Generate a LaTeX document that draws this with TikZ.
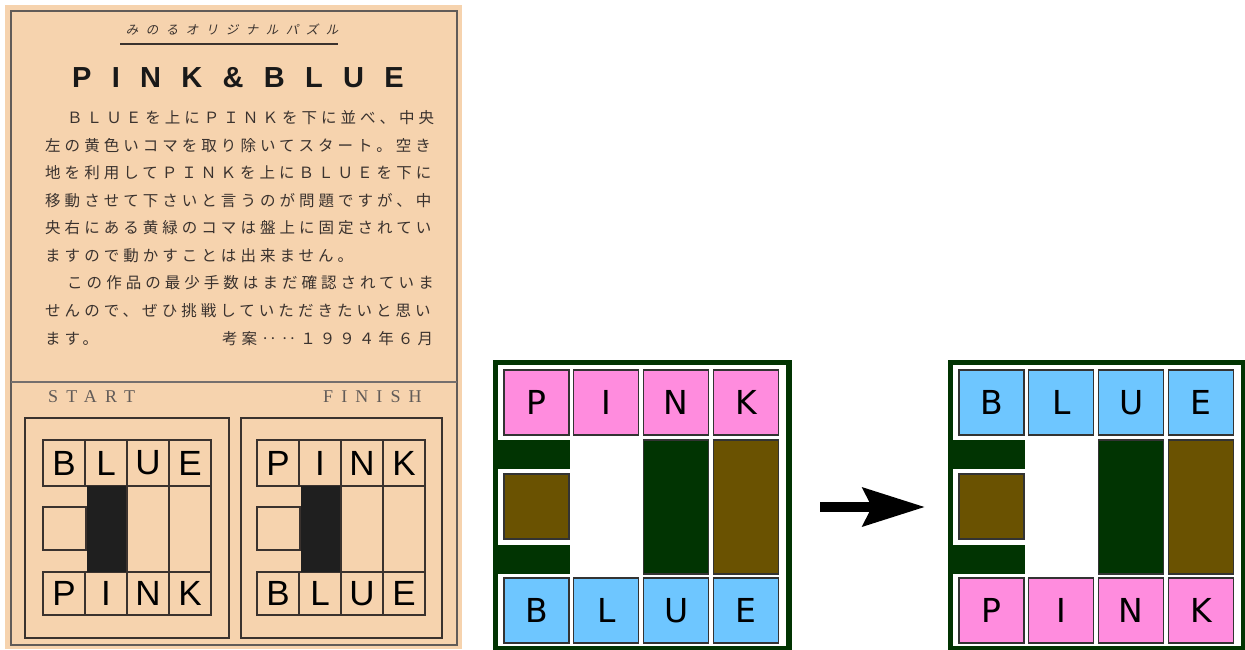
\documentclass[tikz,border=0pt]{standalone}
\usepackage{fontspec}
\usetikzlibrary{arrows.meta}
\newfontfamily\jpfont[LetterSpace=26]{Noto Sans CJK JP}
\newfontfamily\jpslant[LetterSpace=60,FakeSlant=0.2]{Noto Sans CJK JP}
\newfontfamily\titlefont[LetterSpace=70]{Liberation Sans}
\newfontfamily\labelfont[LetterSpace=45]{Liberation Serif}
\newfontfamily\cardfont{Liberation Sans}
\newfontfamily\tilefont{DejaVu Sans}
\definecolor{cardbg}{RGB}{246,211,174}
\definecolor{cardink}{RGB}{58,50,46}
\definecolor{pinktile}{RGB}{255,140,222}
\definecolor{bluetile}{RGB}{110,198,255}
\definecolor{boardgreen}{RGB}{1,52,2}
\definecolor{brownpiece}{RGB}{106,82,1}
\tikzset{
  jpline/.style={anchor=west, inner sep=0pt, text=cardink, font=\jpfont\fontsize{15.5}{15.5}\selectfont},
  cardcell/.style={draw=cardink, line width=1.3pt, minimum width=42pt, inner sep=0pt, font=\cardfont\fontsize{35}{35}\selectfont},
  tile/.style={draw=black!80, line width=1.2pt, minimum size=65pt, inner sep=0pt, font=\tilefont\fontsize{33}{33}\selectfont}
}
\begin{document}
\begin{tikzpicture}[x=1pt, y=-1pt]
  \useasboundingbox (0,0) rectangle (1245,649);
  % Card (scan of the original instructions)
  \fill[cardbg] (5,5) rectangle (462,649);
  \draw[cardink!80, line width=1.5pt] (11,11) rectangle (457,645);
  \draw[cardink!70, line width=2.5pt] (11,382) -- (457,382);
  \node[inner sep=0pt, text=cardink, font=\jpslant\fontsize{12.5}{12.5}\selectfont] (sub) at (232,30) {みのるオリジナルパズル};
  \draw[cardink, line width=1.5pt] (120,44) -- (338,44);
  \node[anchor=west, inner sep=0pt, text=black!90, font=\titlefont\bfseries\fontsize{29}{29}\selectfont] (title) at (72,78) {PINK\&BLUE};
  \node[jpline] (line1) at (67,118) {ＢＬＵＥを上にＰＩＮＫを下に並べ、中央};
  \node[jpline] (line2) at (45,145.5) {左の黄色いコマを取り除いてスタート。空き};
  \node[jpline] (line3) at (45,173) {地を利用してＰＩＮＫを上にＢＬＵＥを下に};
  \node[jpline] (line4) at (45,200.5) {移動させて下さいと言うのが問題ですが、中};
  \node[jpline] (line5) at (45,228) {央右にある黄緑のコマは盤上に固定されてい};
  \node[jpline] (line6) at (45,255.5) {ますので動かすことは出来ません。};
  \node[jpline] (line7) at (67,283) {この作品の最少手数はまだ確認されていま};
  \node[jpline] (line8) at (45,310.5) {せんので、ぜひ挑戦していただきたいと思い};
  \node[jpline] (line9) at (45,339) {ます。};
  \node[jpline] (date) at (222,339) {考案‥‥１９９４年６月};
  \node[anchor=west, inner sep=0pt, text=cardink!80, font=\labelfont\fontsize{18}{18}\selectfont] (start) at (48,397) {START};
  \node[anchor=west, inner sep=0pt, text=cardink!80, font=\labelfont\fontsize{18}{18}\selectfont] (finish) at (323,397) {FINISH};
  \draw[cardink, line width=1.5pt] (25,418) rectangle (229,638);
  \draw[cardink, line width=1.5pt] (241,418) rectangle (442,638);
  % Small grids on the card
  \foreach \gx/\toprow/\botrow/\gn in {43/{B,L,U,E}/{P,I,N,K}/s, 257/{P,I,N,K}/{B,L,U,E}/f} {
    \foreach \ch [count=\i from 0] in \toprow
      \node[cardcell, minimum height=46pt] (\gn t\i) at (\gx+21+42*\i,463) {\ch};
    \foreach \ch [count=\i from 0] in \botrow
      \node[cardcell, minimum height=43pt] (\gn b\i) at (\gx+21+42*\i,593.5) {\ch};
    \draw[cardink, line width=1.3pt] (\gx,507) rectangle (\gx+43,550);
    \fill[black!88] (\gx+44,486) rectangle (\gx+83,572);
    \draw[cardink, line width=1.3pt] (\gx+84,486) rectangle (\gx+126,572) (\gx+126,486) rectangle (\gx+168,572);
  }
  % Coloured boards: start and finish
  \foreach \bx/\toprow/\botrow/\tc/\bc/\bn in {0/{P,I,N,K}/{B,L,U,E}/pinktile/bluetile/s, 455/{B,L,U,E}/{P,I,N,K}/bluetile/pinktile/f} {
    \begin{scope}[xshift=\bx pt]
      \fill[boardgreen] (493,360) rectangle (792,652);
      \fill[white] (498,365) rectangle (786,646);
      \fill[boardgreen] (493,440) rectangle (570,574);
      \fill[white] (498,469) rectangle (575,545);
      \foreach \ch [count=\i from 0] in \toprow
        \node[tile, fill=\tc] (\bn top\i) at (536.5+69.8*\i,402.5) {\ch};
      \foreach \ch [count=\i from 0] in \botrow
        \node[tile, fill=\bc] (\bn bot\i) at (536.5+69.8*\i,610.5) {\ch};
      \node[tile, fill=brownpiece] (\bn small) at (536.5,506.5) {};
      \node[tile, fill=boardgreen, minimum height=134pt] (\bn fixed) at (676,507) {};
      \node[tile, fill=brownpiece, minimum height=134pt] (\bn tall) at (746,507) {};
    \end{scope}
  }
  % Arrow between the boards
  \coordinate (a0) at (820,507);
  \coordinate (a1) at (925,507);
  \draw[line width=10pt, -{Stealth[length=62pt, width=38pt, inset=9pt]}] (a0) -- (a1);
\end{tikzpicture}
\end{document}
